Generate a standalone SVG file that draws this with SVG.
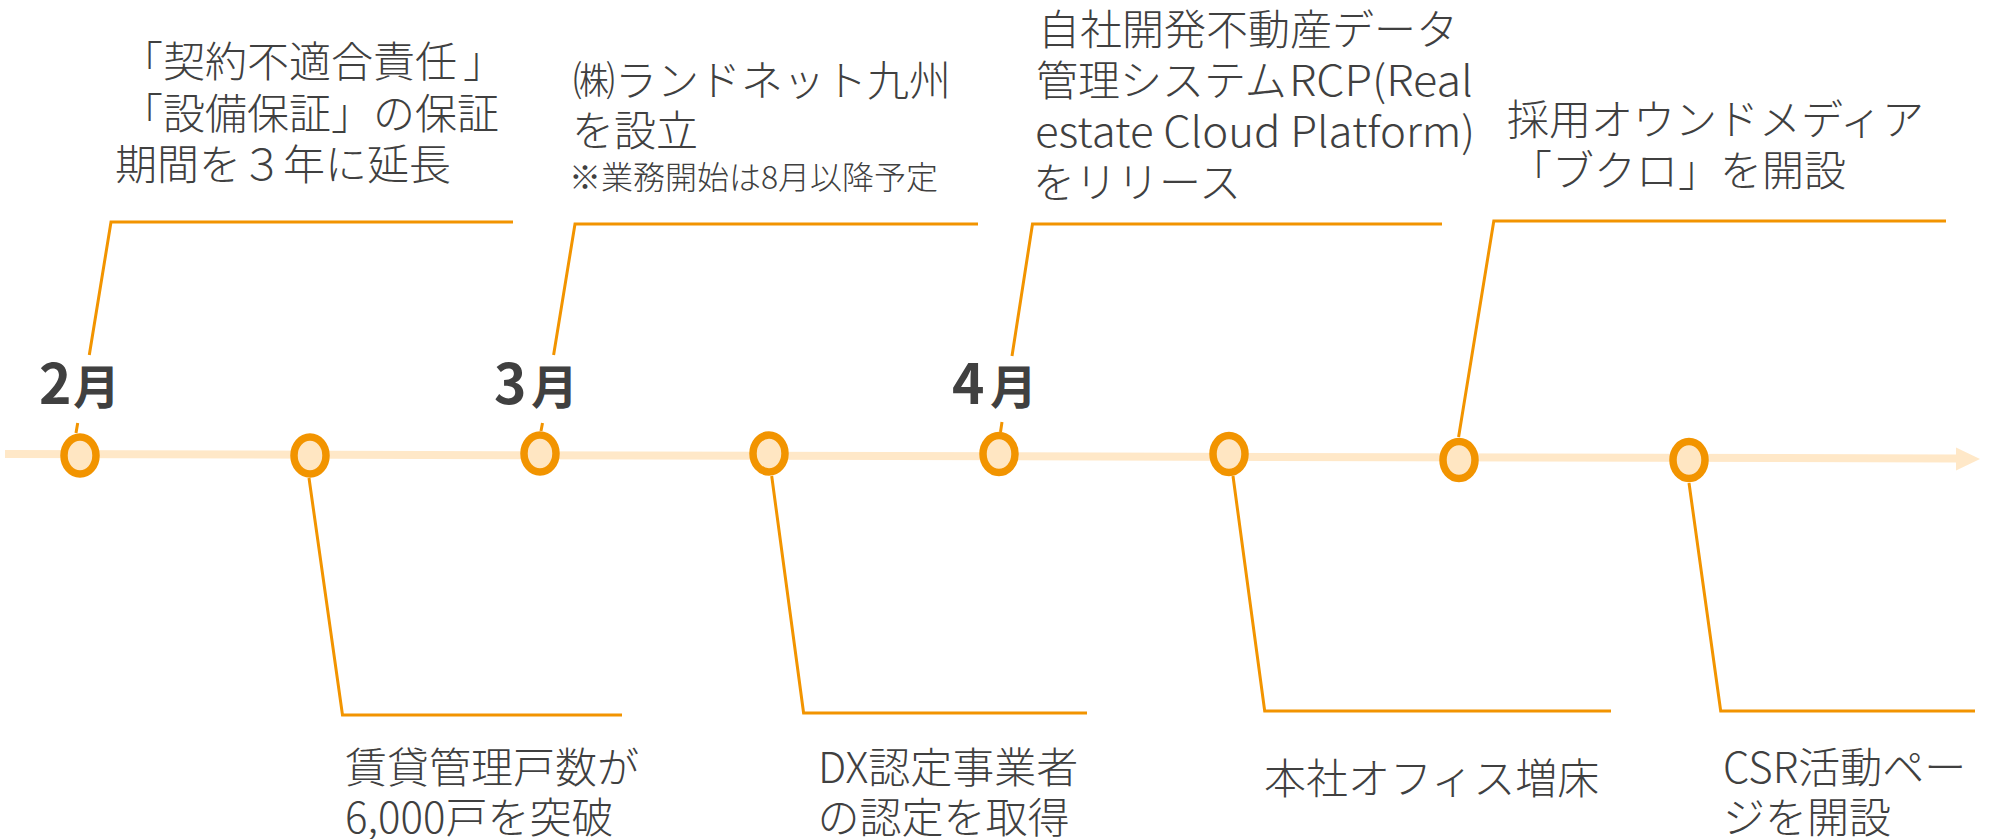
<svg xmlns="http://www.w3.org/2000/svg" width="1993" height="839" viewBox="0 0 1993 839">
<style>
.t{font-family:"Noto Sans CJK JP","Noto Sans CJK SC",sans-serif;font-size:42px;font-weight:300;fill:#404040}
.s{font-size:32px}
.m{font-family:"Noto Sans CJK JP","Noto Sans CJK SC",sans-serif;font-weight:700;fill:#404040}
.d{font-size:55px}
.k{font-size:47px}
.c{fill:none;stroke:#F29400;stroke-width:3;stroke-linejoin:miter}
.dot{fill:#FFE6C2;stroke:#F29400;stroke-width:7.5}
</style>
<rect width="1993" height="839" fill="#FFFFFF"/>
<g id="timeline">
<path d="M5 450 L1956 454.5 L1956 462.5 L5 458 Z" fill="#FFE8C8"/>
<path d="M1956 447.5 L1980 459 L1956 470.5 Z" fill="#FFE8C8"/>
</g>
<g id="connectors">
<path class="c" d="M76 433 L77.7 423 M89.3 355 L111 222 H513"/>
<path class="c" d="M541 431 L542.5 423 M553.6 355 L575 224 H978"/>
<path class="c" d="M1000.5 432 L1002 422 M1012 356 L1032.5 224 H1442"/>
<path class="c" d="M1458.6 437 L1493.8 221 H1946"/>
<path class="c" d="M309 478 L342.5 715 H622"/>
<path class="c" d="M771.7 476 L803.6 713 H1087"/>
<path class="c" d="M1233 476 L1264.7 711 H1611"/>
<path class="c" d="M1689 483 L1720.7 711 H1975"/>
</g>
<g id="dots">
<ellipse class="dot" cx="80" cy="455.5" rx="16" ry="18.5"/>
<ellipse class="dot" cx="310" cy="455.5" rx="16" ry="18.5"/>
<ellipse class="dot" cx="540" cy="453.5" rx="16" ry="18.5"/>
<ellipse class="dot" cx="769" cy="453.5" rx="16" ry="18.5"/>
<ellipse class="dot" cx="999" cy="454" rx="16" ry="18.5"/>
<ellipse class="dot" cx="1229" cy="454" rx="16" ry="18.5"/>
<ellipse class="dot" cx="1459" cy="460" rx="16" ry="18.5"/>
<ellipse class="dot" cx="1689" cy="460" rx="16" ry="18.5"/>
</g>
<g id="month-feb"><text class="m" y="404"><tspan class="d" x="39">2</tspan><tspan class="k" x="73">月</tspan></text></g>
<g id="month-mar"><text class="m" y="404"><tspan class="d" x="494">3</tspan><tspan class="k" x="531">月</tspan></text></g>
<g id="month-apr"><text class="m" y="404"><tspan class="d" x="952">4</tspan><tspan class="k" x="990">月</tspan></text></g>
<g id="event-warranty">
<text class="t" x="121" y="77">「契約不適合責任<tspan dx="6">」</tspan></text>
<text class="t" x="121" y="129">「設備保証」の保証</text>
<text class="t" x="115" y="180">期間を３年に延長</text>
</g>
<g id="event-kyushu">
<text class="t" x="573" y="96">㈱ランドネット九州</text>
<text class="t" x="572" y="146">を設立</text>
<text class="t s" x="569" y="189">※業務開始は8月以降予定</text>
</g>
<g id="event-rcp">
<text class="t" x="1038" y="45">自社開発不動産データ</text>
<text class="t" x="1036" y="96">管理システム<tspan x="1289" textLength="184" lengthAdjust="spacingAndGlyphs">RCP(Real</tspan></text>
<text class="t" x="1035" y="147" textLength="440" lengthAdjust="spacingAndGlyphs">estate Cloud Platform)</text>
<text class="t" x="1033" y="198">をリリース</text>
</g>
<g id="event-media">
<text class="t" x="1507" y="135">採用オウンドメディア</text>
<text class="t" x="1510" y="186">「ブクロ」を開設</text>
</g>
<g id="event-6000">
<text class="t" x="345" y="783">賃貸管理戸数が</text>
<text class="t" x="345" y="833">6,000戸を突破</text>
</g>
<g id="event-dx">
<text class="t" x="818" y="783">DX認定事業者</text>
<text class="t" x="817.5" y="833">の認定を取得</text>
</g>
<g id="event-office">
<text class="t" x="1264" y="794">本社オフィス増床</text>
</g>
<g id="event-csr">
<text class="t" x="1723" y="783">CSR活動ペー</text>
<text class="t" x="1723" y="833">ジを開設</text>
</g>
</svg>
